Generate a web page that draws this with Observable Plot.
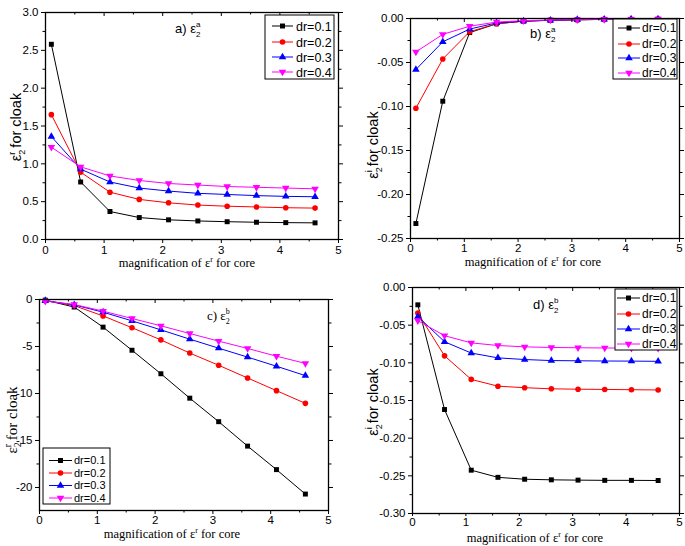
<!DOCTYPE html>
<html><head><meta charset="utf-8">
<script src="https://cdn.jsdelivr.net/npm/d3@7"></script>
<script src="https://cdn.jsdelivr.net/npm/@observablehq/plot@0.6"></script>
<style>
body{margin:0;background:#fff;}
#wrap{position:relative;width:685px;height:546px;overflow:hidden;background:#fff;}
#wrap svg{position:absolute;max-width:none;}
</style></head><body><div id="wrap"></div>
<script>
// ---- data ----
const magnification = [0.1, 0.6, 1.1, 1.6, 2.1, 2.6, 3.1, 3.6, 4.1, 4.6];
const series = ["dr=0.1", "dr=0.2", "dr=0.3", "dr=0.4"];
const seriesColors = ["#000000", "#ff0000", "#0000ff", "#ff00ff"];
const xMajorTicks = [0, 1, 2, 3, 4, 5];
const xMinorTicks = [0.5, 1.5, 2.5, 3.5, 4.5];

// a) eps2^a real part
const aDr1 = [2.58, 0.76, 0.37, 0.29, 0.26, 0.245, 0.235, 0.228, 0.223, 0.22];
const aDr2 = [1.65, 0.89, 0.625, 0.53, 0.485, 0.455, 0.44, 0.43, 0.42, 0.415];
const aDr3 = [1.36, 0.93, 0.76, 0.68, 0.64, 0.61, 0.595, 0.58, 0.57, 0.565];
const aDr4 = [1.22, 0.96, 0.84, 0.78, 0.74, 0.72, 0.70, 0.69, 0.68, 0.67];
// b) eps2^a imaginary part
const bDr1 = [-0.233, -0.094, -0.016, -0.006, -0.003, -0.002, -0.0015, -0.001, -0.001, -0.0008];
const bDr2 = [-0.102, -0.046, -0.015, -0.006, -0.003, -0.002, -0.0015, -0.001, -0.001, -0.0008];
const bDr3 = [-0.058, -0.0265, -0.012, -0.005, -0.003, -0.002, -0.0013, -0.001, -0.0008, -0.0007];
const bDr4 = [-0.038, -0.018, -0.0088, -0.004, -0.0025, -0.0017, -0.0012, -0.0009, -0.0007, -0.0006];
// c) eps2^b real part
const cDr1 = [-0.07, -0.8, -2.94, -5.4, -7.9, -10.5, -13.0, -15.6, -18.1, -20.7];
const cDr2 = [-0.1, -0.65, -1.75, -3.0, -4.3, -5.7, -7.0, -8.35, -9.7, -11.05];
const cDr3 = [-0.13, -0.57, -1.35, -2.27, -3.23, -4.22, -5.18, -6.13, -7.1, -8.1];
const cDr4 = [-0.17, -0.53, -1.24, -2.02, -2.8, -3.62, -4.43, -5.21, -6.03, -6.8];
// d) eps2^b imaginary part
const dDr1 = [-0.023, -0.162, -0.2425, -0.252, -0.2545, -0.2553, -0.2557, -0.256, -0.256, -0.2562];
const dDr2 = [-0.034, -0.0907, -0.122, -0.131, -0.133, -0.1345, -0.135, -0.1353, -0.1357, -0.136];
const dDr3 = [-0.0385, -0.072, -0.087, -0.0934, -0.0956, -0.097, -0.0973, -0.0976, -0.0977, -0.098];
const dDr4 = [-0.044, -0.064, -0.0735, -0.077, -0.0788, -0.0796, -0.080, -0.0803, -0.0804, -0.0805];

const aYTicks = [0, 0.5, 1.0, 1.5, 2.0, 2.5, 3.0];
const aYMinor = [0.25, 0.75, 1.25, 1.75, 2.25, 2.75];
const bYTicks = [0, -0.05, -0.10, -0.15, -0.20, -0.25];
const bYMinor = [-0.025, -0.075, -0.125, -0.175, -0.225];
const cYTicks = [0, -5, -10, -15, -20];
const cYMinor = [-2.5, -7.5, -12.5, -17.5];
const dYTicks = [0, -0.05, -0.10, -0.15, -0.20, -0.25, -0.30];
const dYMinor = [-0.025, -0.075, -0.125, -0.175, -0.225, -0.275];

// ---- helpers ----
const fmt = f => d => d3.format(f)(d).replace("\u2212", "-");
const wrap = document.getElementById("wrap");
const SANS = "'Liberation Sans', Arial, sans-serif";
const SERIF = "'Liberation Serif', 'Times New Roman', serif";

function rowsOf(arrs) {
  const rows = [];
  arrs.forEach((arr, i) => arr.forEach((v, j) => rows.push({x: magnification[j], y: v, s: series[i]})));
  return rows;
}

function addText(svg, {x, y, rotate = 0, anchor = "start", family = SANS, size = 12, parts}) {
  const t = d3.select(svg).append("text")
    .attr("transform", `translate(${x},${y}) rotate(${rotate})`)
    .attr("text-anchor", anchor).attr("fill", "#000")
    .style("font-family", family).style("font-size", size + "px");
  parts.forEach(p => {
    const ts = t.append("tspan").text(p.t);
    if (p.dx) ts.attr("dx", p.dx);
    if (p.dy) ts.attr("dy", p.dy);
    if (p.size) ts.style("font-size", p.size + "px");
  });
}

function addLegend(svg, {x, y, w, h, rows, l1, l2, tx, size}) {
  const g = d3.select(svg).append("g");
  g.append("rect").attr("x", x).attr("y", y).attr("width", w).attr("height", h)
    .attr("fill", "#fff").attr("stroke", "#000").attr("stroke-width", 1);
  const syms = [d3.symbolSquare, d3.symbolCircle, d3.symbolTriangle, d3.symbolTriangle];
  series.forEach((s, i) => {
    const yy = rows[i];
    g.append("line").attr("x1", l1).attr("x2", l2).attr("y1", yy).attr("y2", yy)
      .attr("stroke", seriesColors[i]).attr("stroke-width", 1);
    g.append("path").attr("d", d3.symbol(syms[i], Math.PI * 2.8 * 2.8)())
      .attr("transform", `translate(${(l1 + l2) / 2},${yy}) rotate(${i === 3 ? 180 : 0})`)
      .attr("fill", seriesColors[i]);
    g.append("text").attr("x", tx).attr("y", yy).attr("dy", "0.36em").text(s)
      .attr("text-anchor", "start")
      .attr("fill", "#000").style("font-family", SANS).style("font-size", size + "px");
  });
}

function panel(cfg) {
  const {left, top, width, height, ml, mr, mt, mb, yDomain, yTicks, yMinor, yFmt, arrs, xTick} = cfg;
  const innerH = height - mt - mb;
  const rows = rowsOf(arrs);
  const svg = Plot.plot({
    width, height, marginLeft: ml, marginRight: mr, marginTop: mt, marginBottom: mb,
    style: {fontFamily: SANS, fontSize: "11px", background: "transparent", color: "#000", overflow: "visible"},
    x: {domain: [0, 5]},
    y: {domain: yDomain},
    color: {domain: series, range: seriesColors},
    symbol: {domain: series, range: ["square", "circle", "triangle", "triangle"]},
    marks: [
      Plot.line(rows, {x: "x", y: "y", z: "s", stroke: "s", strokeWidth: 1}),
      Plot.dot(rows, {x: "x", y: "y", fill: "s", symbol: "s", r: 2.8,
        rotate: d => d.s === "dr=0.4" ? 180 : 0}),
      Plot.frame({stroke: "#000", strokeWidth: 1.3}),
      Plot.axisX({ticks: xMajorTicks, tickSize: xTick.size, tickPadding: xTick.pad, tickFormat: d => String(d), label: null, fontSize: 11.5}),
      Plot.axisX({ticks: xMinorTicks, tickSize: 2.5, tickFormat: () => "", label: null}),
      Plot.axisY({ticks: yTicks, tickSize: 4, tickPadding: 3, tickFormat: yFmt, label: null, fontSize: 11.5}),
      Plot.axisY({ticks: yMinor, tickSize: 2.5, tickFormat: () => "", label: null}),
      Plot.axisY({anchor: "right", ticks: yTicks, tickSize: 4, tickFormat: () => "", label: null}),
      Plot.axisY({anchor: "right", ticks: yMinor, tickSize: 2.5, tickFormat: () => "", label: null}),
      Plot.tickX(xMajorTicks, {x: d => d, insetBottom: innerH - 4, stroke: "#000"}),
      Plot.tickX(xMinorTicks, {x: d => d, insetBottom: innerH - 2.5, stroke: "#000"})
    ]
  });
  svg.style.left = left + "px";
  svg.style.top = top + "px";
  svg.style.width = width + "px";
  svg.style.height = height + "px";
  wrap.appendChild(svg);
  return svg;
}

// ---- panel a ----
const svgA = panel({left: 0, top: 0, width: 345, height: 275, ml: 45, mr: 7, mt: 12, mb: 36,
  yDomain: [0, 3], yTicks: aYTicks, yMinor: aYMinor, yFmt: fmt(".1f"),
  arrs: [aDr1, aDr2, aDr3, aDr4], xTick: {size: 4, pad: 2}});
addText(svgA, {x: 175, y: 33, size: 13, parts: [{t: "a) ε"}, {t: "2", dy: 4, size: 8}, {t: "a", dx: -4.4, dy: -10, size: 8}]});
addText(svgA, {x: 187, y: 267, anchor: "middle", family: SERIF, size: 12.5,
  parts: [{t: "magnification of ε"}, {t: "r", dy: -5, size: 8}, {t: " for core", dy: 5}]});
addText(svgA, {x: 21, y: 127, rotate: -90, anchor: "middle", size: 14.5,
  parts: [{t: "ε"}, {t: "2", dy: 4, size: 9}, {t: "r", dx: -5, dy: -10, size: 9}, {t: " for cloak", dy: 6}]});
addLegend(svgA, {x: 265, y: 15, w: 69, h: 64, rows: [26, 42, 57, 72], l1: 272, l2: 293, tx: 296, size: 12.5});

// ---- panel b ----
const svgB = panel({left: 340, top: 0, width: 345, height: 275, ml: 70, mr: 6, mt: 18, mb: 37,
  yDomain: [-0.25, 0], yTicks: bYTicks, yMinor: bYMinor, yFmt: fmt(".2f"),
  arrs: [bDr1, bDr2, bDr3, bDr4], xTick: {size: 4, pad: 1}});
addText(svgB, {x: 190, y: 38, size: 13, parts: [{t: "b) ε"}, {t: "2", dy: 4, size: 8}, {t: "a", dx: -4.4, dy: -10, size: 8}]});
addText(svgB, {x: 193, y: 266, anchor: "middle", family: SERIF, size: 12.5,
  parts: [{t: "magnification of ε"}, {t: "r", dy: -5, size: 8}, {t: " for core", dy: 5}]});
addText(svgB, {x: 38, y: 145, rotate: -90, anchor: "middle", size: 14.5,
  parts: [{t: "ε"}, {t: "2", dy: 4, size: 9}, {t: "i", dx: -5, dy: -10, size: 9}, {t: " for cloak", dy: 6}]});
addLegend(svgB, {x: 273, y: 19, w: 64, h: 60, rows: [28, 44, 58, 73], l1: 278, l2: 300, tx: 302, size: 12});

// ---- panel c ----
const svgC = panel({left: 0, top: 270, width: 340, height: 276, ml: 39, mr: 12, mt: 29, mb: 36,
  yDomain: [-22.45, 0], yTicks: cYTicks, yMinor: cYMinor, yFmt: fmt("d"),
  arrs: [cDr1, cDr2, cDr3, cDr4], xTick: {size: 4, pad: 1}});
addText(svgC, {x: 207, y: 50, family: SERIF, size: 13, parts: [{t: "c) ε"}, {t: "2", dy: 4, size: 8}, {t: "b", dx: -4, dy: -10, size: 8}]});
addText(svgC, {x: 172, y: 268, anchor: "middle", family: SERIF, size: 12.5,
  parts: [{t: "magnification of ε"}, {t: "r", dy: -5, size: 8}, {t: " for core", dy: 5}]});
addText(svgC, {x: 17, y: 150, rotate: -90, anchor: "middle", family: SERIF, size: 15,
  parts: [{t: "ε"}, {t: "2", dy: 4, size: 10}, {t: "r", dx: -5, dy: -10, size: 10}, {t: " for cloak", dy: 6}]});
addLegend(svgC, {x: 43, y: 178, w: 67, h: 56, rows: [190.5, 203, 215.5, 228], l1: 49, l2: 72, tx: 74, size: 11});

// ---- panel d ----
const svgD = panel({left: 340, top: 270, width: 345, height: 276, ml: 72, mr: 6, mt: 17, mb: 33,
  yDomain: [-0.30, 0], yTicks: dYTicks, yMinor: dYMinor, yFmt: fmt(".2f"),
  arrs: [dDr1, dDr2, dDr3, dDr4], xTick: {size: 3, pad: 1}});
addText(svgD, {x: 193, y: 39, size: 13, parts: [{t: "d) ε"}, {t: "2", dy: 4, size: 8}, {t: "b", dx: -4.4, dy: -10, size: 8}]});
addText(svgD, {x: 195, y: 272, anchor: "middle", family: SERIF, size: 12.5,
  parts: [{t: "magnification of ε"}, {t: "r", dy: -5, size: 8}, {t: " for core", dy: 5}]});
addText(svgD, {x: 38, y: 132, rotate: -90, anchor: "middle", size: 14.5,
  parts: [{t: "ε"}, {t: "2", dy: 4, size: 9}, {t: "i", dx: -5, dy: -10, size: 9}, {t: " for cloak", dy: 6}]});
addLegend(svgD, {x: 275, y: 19, w: 62, h: 61, rows: [28, 44, 59, 74], l1: 277, l2: 300, tx: 302, size: 12});
</script></body></html>
